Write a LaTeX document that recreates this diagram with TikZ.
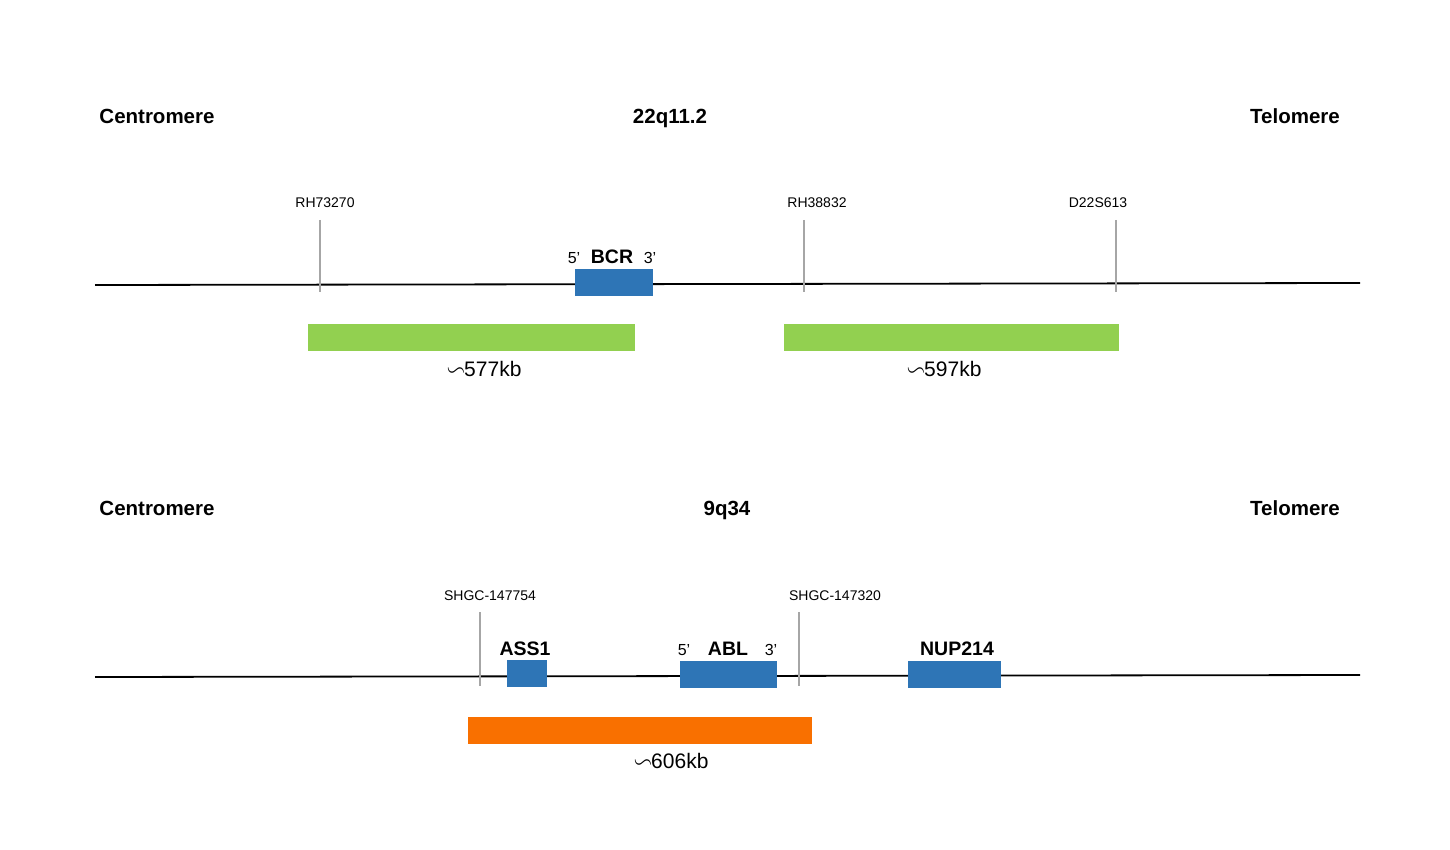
\documentclass[tikz,border=0pt]{standalone}
\usepackage{amssymb}
\usepackage{fontspec}
\setmainfont{Liberation Sans}
\definecolor{genebl}{HTML}{2E75B6}
\definecolor{probegr}{HTML}{92D050}
\definecolor{probeor}{HTML}{F97000}
\definecolor{markgr}{HTML}{A6A6A6}
\newcommand{\approxkb}[1]{{\fontsize{24}{26}\selectfont$\backsim$}\kern-1pt#1}
\begin{document}
\begin{tikzpicture}[x=1pt,y=-1pt,
    head/.style={anchor=base,font=\fontsize{20.5}{24}\selectfont\bfseries},
    marklabel/.style={anchor=base,font=\fontsize{14}{16}\selectfont},
    genelabel/.style={anchor=base,font=\fontsize{19.5}{22}\selectfont\bfseries},
    endlabel/.style={anchor=base,font=\fontsize{16}{18}\selectfont},
    sizelabel/.style={anchor=base,font=\fontsize{21}{24}\selectfont},
    chrom/.style={line width=1.8pt,black},
    marker/.style={line width=2pt,markgr}]
        \useasboundingbox (0,0) rectangle (1450,850);

        % 22q11.2
        \node[head] (cen1) at (157,123.5) {Centromere};
        \node[head] (band1) at (670,123.5) {22q11.2};
        \node[head] (tel1) at (1295,123.5) {Telomere};
        \coordinate (l1) at (95,285);
        \coordinate (r1) at (1360,283);
        \draw[chrom] (l1) -- (r1);
        \foreach \x/\lx/\nm/\lab in {320/325/rh1/RH73270, 804/817/rh2/RH38832, 1116/1098/dz/D22S613} {
            \node[marklabel] (\nm) at (\lx,208) {\lab};
            \coordinate (\nm t) at (\x,220);
            \coordinate (\nm b) at (\x,292);
            \draw[marker] (\nm t) -- (\nm b);
        }
        \fill[genebl] (575,269) rectangle (653,296);
        \node[endlabel] (bcr5) at (574,263.5) {5'};
        \node[genelabel] (bcr) at (612,263.5) {BCR};
        \node[endlabel] (bcr3) at (650,263.5) {3'};
        \fill[probegr] (308,324) rectangle (635,351);
        \fill[probegr] (784,324) rectangle (1119,351);
        \node[sizelabel] (kb1) at (484,376) {\approxkb{577kb}};
        \node[sizelabel] (kb2) at (944,376) {\approxkb{597kb}};

        % 9q34
        \node[head] (cen2) at (157,515.5) {Centromere};
        \node[head] (band2) at (727,515.5) {9q34};
        \node[head] (tel2) at (1295,515.5) {Telomere};
        \coordinate (l2) at (95,677);
        \coordinate (r2) at (1360,675);
        \draw[chrom] (l2) -- (r2);
        \foreach \x/\lx/\nm/\lab in {480/490/sh1/SHGC-147754, 799/835/sh2/SHGC-147320} {
            \node[marklabel] (\nm) at (\lx,600) {\lab};
            \coordinate (\nm t) at (\x,612);
            \coordinate (\nm b) at (\x,686);
            \draw[marker] (\nm t) -- (\nm b);
        }
        \fill[genebl] (507,660) rectangle (547,687);
        \fill[genebl] (680,661) rectangle (777,688);
        \fill[genebl] (908,661) rectangle (1001,688);
        \node[genelabel] (ass) at (525,655.5) {ASS1};
        \node[endlabel] (abl5) at (684,655.5) {5'};
        \node[genelabel] (abl) at (728,655.5) {ABL};
        \node[endlabel] (abl3) at (771,655.5) {3'};
        \node[genelabel] (nup) at (957,655.5) {NUP214};
        \fill[probeor] (468,717) rectangle (812,744);
        \node[sizelabel] (kb3) at (671,768) {\approxkb{606kb}};
\end{tikzpicture}
\end{document}
